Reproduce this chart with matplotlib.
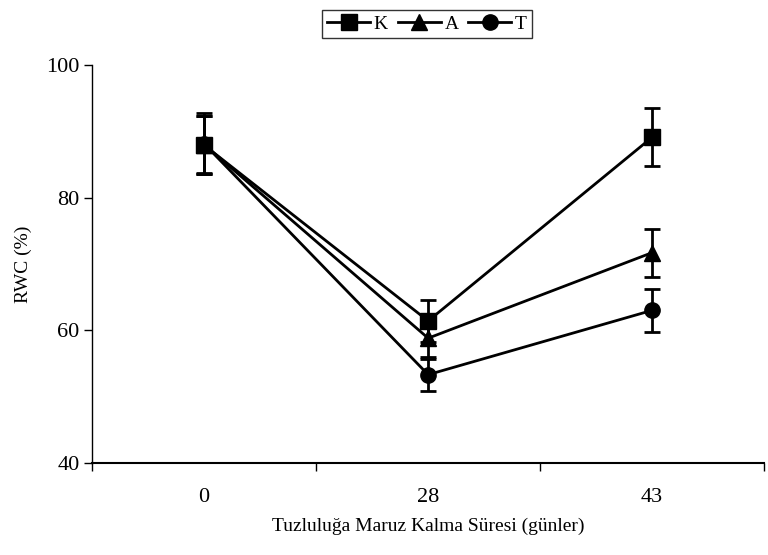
import numpy as np
import matplotlib.pyplot as plt
from matplotlib.lines import Line2D

plt.rcParams['font.family'] = ['Liberation Serif', 'DejaVu Serif']

# Data
days = ['0', '28', '43']
k_vals = [87.9, 61.4, 89.1]
k_err = [4.4, 3.2, 4.4]
a_vals = [88.0, 58.8, 71.7]
a_err = [4.3, 2.8, 3.6]
t_vals = [88.1, 53.3, 63.0]
t_err = [4.6, 2.4, 3.2]

x = np.arange(len(days))

fig = plt.figure(figsize=(7.68, 5.55), dpi=100)
ax = fig.add_axes([0.12, 0.166, 0.875, 0.717])

series = [('K', k_vals, k_err, 's'), ('A', a_vals, a_err, '^'), ('T', t_vals, t_err, 'o')]
handles = []
for name, vals, err, mk in series:
    ax.errorbar(x, vals, yerr=err, color='black', marker=mk, markersize=11,
                lw=2, elinewidth=2, capsize=6, capthick=2)
    handles.append(Line2D([], [], color='black', marker=mk, markersize=11, lw=2))

ax.set_xlim(-0.5, 2.5)
ax.set_ylim(40, 100)
ax.set_yticks([40, 60, 80, 100])
ax.set_xticks([-0.5, 0.5, 1.5, 2.5])
ax.set_xticklabels([])
ax.set_xticks(x, minor=True)
ax.set_xticklabels(days, minor=True)
ax.tick_params(axis='x', which='major', direction='out', length=6, width=1)
ax.tick_params(axis='x', which='minor', length=0, pad=18, labelsize=16)
ax.tick_params(axis='y', direction='out', length=6, width=1, labelsize=16, pad=3)
ax.spines['top'].set_visible(False)
ax.spines['right'].set_visible(False)
ax.spines['left'].set_linewidth(1)
ax.spines['bottom'].set_linewidth(1.5)

ax.set_xlabel('Tuzluluğa Maruz Kalma Süresi (günler)', fontsize=14, labelpad=8)
ax.set_ylabel('RWC (%)', fontsize=14, labelpad=10)

leg = fig.legend(handles=handles, labels=['K', 'A', 'T'], loc='center',
                 bbox_to_anchor=(0.556, 0.957), ncol=3, frameon=True, fancybox=False,
                 fontsize=14, handlelength=2.2, handletextpad=0.2, columnspacing=0.5,
                 borderpad=0.25, borderaxespad=0)
leg.get_frame().set_edgecolor('black')
leg.get_frame().set_linewidth(1)

fig.savefig('out.png', dpi=100)
